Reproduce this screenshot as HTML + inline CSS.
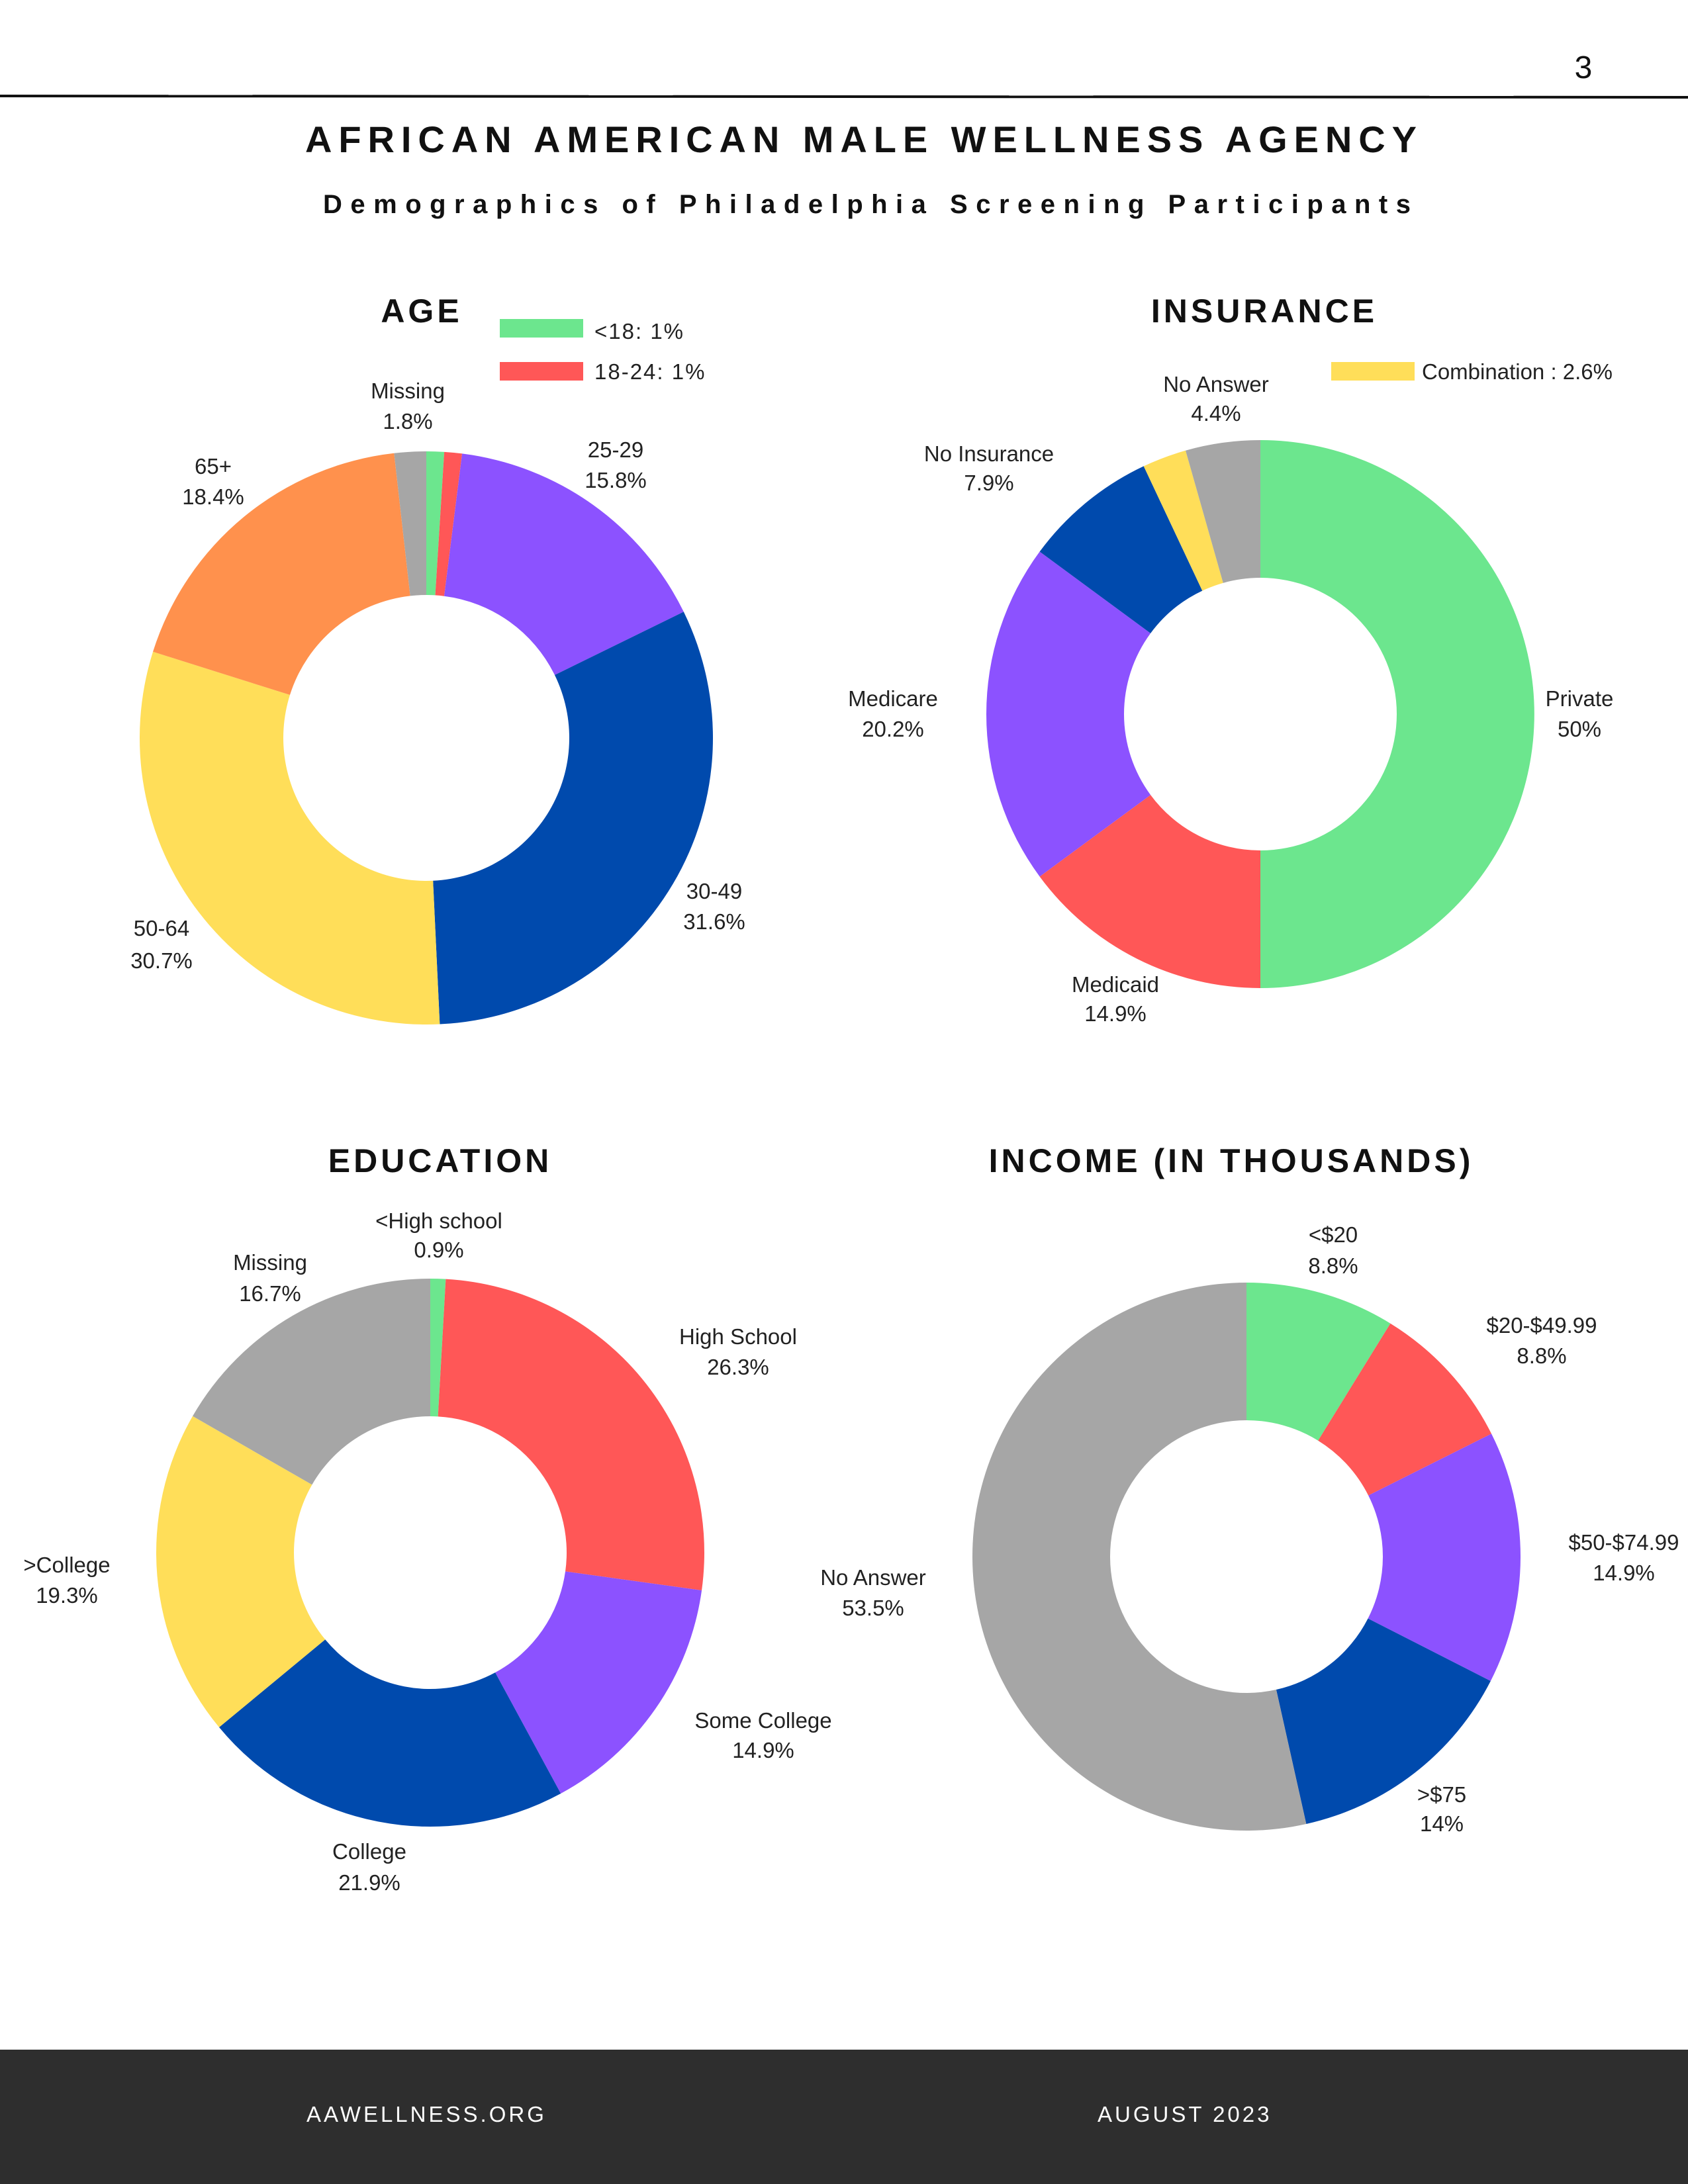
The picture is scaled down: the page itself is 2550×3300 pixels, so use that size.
<!DOCTYPE html>
<html><head><meta charset="utf-8"><style>
html,body{margin:0;padding:0;background:#fff}
svg{display:block}
text{font-family:"Liberation Sans",sans-serif}
.lbl{font-size:33px;fill:#222;text-anchor:middle}
.ttl{font-size:50px;font-weight:bold;letter-spacing:5px;text-anchor:middle;fill:#111}
</style></head><body>
<svg id="page" width="2550" height="3300" viewBox="0 0 2550 3300" xmlns="http://www.w3.org/2000/svg">
<rect width="2550" height="3300" fill="#fff"/>
<line x1="0" y1="145" x2="2550" y2="147" stroke="#111" stroke-width="4"/>
<text x="2392" y="118" font-size="48" text-anchor="middle" fill="#111">3</text>
<text x="461" y="230" font-size="56" font-weight="bold" textLength="1679" lengthAdjust="spacing" fill="#111">AFRICAN AMERICAN MALE WELLNESS AGENCY</text>
<text x="488" y="322" font-size="40" font-weight="bold" textLength="1643" lengthAdjust="spacing" fill="#111">Demographics of Philadelphia Screening Participants</text>

<text class="ttl" x="637" y="487">AGE</text>
<text class="ttl" x="1910" y="487">INSURANCE</text>
<text class="ttl" x="665" y="1771">EDUCATION</text>
<text class="ttl" x="1860" y="1771">INCOME (IN THOUSANDS)</text>

<g>
<rect x="755" y="482" width="126" height="28" fill="#6ce68e"/>
<text x="898" y="512" font-size="33" letter-spacing="2" fill="#222">&lt;18: 1%</text>
<rect x="755" y="547" width="126" height="28" fill="#ff5757"/>
<text x="898" y="573" font-size="33" letter-spacing="2" fill="#222">18-24: 1%</text>
</g>
<g>
<rect x="2011" y="547" width="126" height="28" fill="#ffde59"/>
<text x="2148" y="573" font-size="33" fill="#222">Combination : 2.6%</text>
</g>

<g id="charts"></g>

<g>
<text class="lbl" x="616" y="602">Missing</text><text class="lbl" x="616" y="648">1.8%</text>
<text class="lbl" x="930" y="691">25-29</text><text class="lbl" x="930" y="737">15.8%</text>
<text class="lbl" x="322" y="716">65+</text><text class="lbl" x="322" y="762">18.4%</text>
<text class="lbl" x="1079" y="1358">30-49</text><text class="lbl" x="1079" y="1404">31.6%</text>
<text class="lbl" x="244" y="1414">50-64</text><text class="lbl" x="244" y="1463">30.7%</text>

<text class="lbl" x="1837" y="592">No Answer</text><text class="lbl" x="1837" y="636">4.4%</text>
<text class="lbl" x="1494" y="697">No Insurance</text><text class="lbl" x="1494" y="741">7.9%</text>
<text class="lbl" x="1349" y="1067">Medicare</text><text class="lbl" x="1349" y="1113">20.2%</text>
<text class="lbl" x="2386" y="1067">Private</text><text class="lbl" x="2386" y="1113">50%</text>
<text class="lbl" x="1685" y="1499">Medicaid</text><text class="lbl" x="1685" y="1543">14.9%</text>

<text class="lbl" x="663" y="1856">&lt;High school</text><text class="lbl" x="663" y="1900">0.9%</text>
<text class="lbl" x="408" y="1919">Missing</text><text class="lbl" x="408" y="1966">16.7%</text>
<text class="lbl" x="1115" y="2031">High School</text><text class="lbl" x="1115" y="2077">26.3%</text>
<text class="lbl" x="101" y="2376">&gt;College</text><text class="lbl" x="101" y="2422">19.3%</text>
<text class="lbl" x="1153" y="2611">Some College</text><text class="lbl" x="1153" y="2656">14.9%</text>
<text class="lbl" x="558" y="2809">College</text><text class="lbl" x="558" y="2856">21.9%</text>

<text class="lbl" x="2014" y="1877">&lt;$20</text><text class="lbl" x="2014" y="1924">8.8%</text>
<text class="lbl" x="2329" y="2014">$20-$49.99</text><text class="lbl" x="2329" y="2060">8.8%</text>
<text class="lbl" x="2453" y="2342">$50-$74.99</text><text class="lbl" x="2453" y="2388">14.9%</text>
<text class="lbl" x="1319" y="2395">No Answer</text><text class="lbl" x="1319" y="2441">53.5%</text>
<text class="lbl" x="2178" y="2723">&gt;$75</text><text class="lbl" x="2178" y="2767">14%</text>
</g>

<rect x="0" y="3097" width="2550" height="203" fill="#2e2e2e"/>
<text x="463" y="3206" font-size="33" letter-spacing="4" fill="#fff">AAWELLNESS.ORG</text>
<text x="1658" y="3206" font-size="33" letter-spacing="4" fill="#fff">AUGUST 2023</text>
</svg>
<script>
const ageCategories=["<18","18-24","25-29","30-49","50-64","65+","Missing"];
const ageValues=[1,1,15.8,31.6,30.7,18.4,1.8];
const ageColors=["#6ce68e","#ff5757","#8c52ff","#004aad","#ffde59","#ff914d","#a6a6a6"];
const insCategories=["Private","Medicaid","Medicare","No Insurance","Combination","No Answer"];
const insValues=[50,14.9,20.2,7.9,2.6,4.4];
const insColors=["#6ce68e","#ff5757","#8c52ff","#004aad","#ffde59","#a6a6a6"];
const eduCategories=["<High school","High School","Some College","College",">College","Missing"];
const eduValues=[0.9,26.3,14.9,21.9,19.3,16.7];
const eduColors=["#6ce68e","#ff5757","#8c52ff","#004aad","#ffde59","#a6a6a6"];
const incCategories=["<$20","$20-$49.99","$50-$74.99",">$75","No Answer"];
const incValues=[8.8,8.8,14.9,14,53.5];
const incColors=["#6ce68e","#ff5757","#8c52ff","#004aad","#a6a6a6"];

const NS="http://www.w3.org/2000/svg";
const g=document.getElementById('charts');
function pt(cx,cy,r,a){return [cx+r*Math.sin(a),cy-r*Math.cos(a)];}
function donut(name,cats,vals,cols,cx,cy,R,r){
  const total=vals.reduce((s,v)=>s+v,0);
  const grp=document.createElementNS(NS,'g');
  
  
  let a0=0;
  vals.forEach((v,i)=>{
    const a1=a0+v/total*2*Math.PI;
    const large=(a1-a0)>Math.PI?1:0;
    const [x0,y0]=pt(cx,cy,R,a0),[x1,y1]=pt(cx,cy,R,a1);
    const [x2,y2]=pt(cx,cy,r,a1),[x3,y3]=pt(cx,cy,r,a0);
    const p=document.createElementNS(NS,'path');
    p.setAttribute('d',`M${x0},${y0}A${R},${R} 0 ${large} 1 ${x1},${y1}L${x2},${y2}A${r},${r} 0 ${large} 0 ${x3},${y3}Z`);
    p.setAttribute('fill',cols[i]);
    
    
    grp.appendChild(p);
    a0=a1;
  });
  g.appendChild(grp);
}
donut('age',ageCategories,ageValues,ageColors,644,1115,433,216);
donut('insurance',insCategories,insValues,insColors,1904,1079,414,206);
donut('education',eduCategories,eduValues,eduColors,650,2346,414,206);
donut('income',incCategories,incValues,incColors,1883,2352,414,206);
</script>
</body></html>
